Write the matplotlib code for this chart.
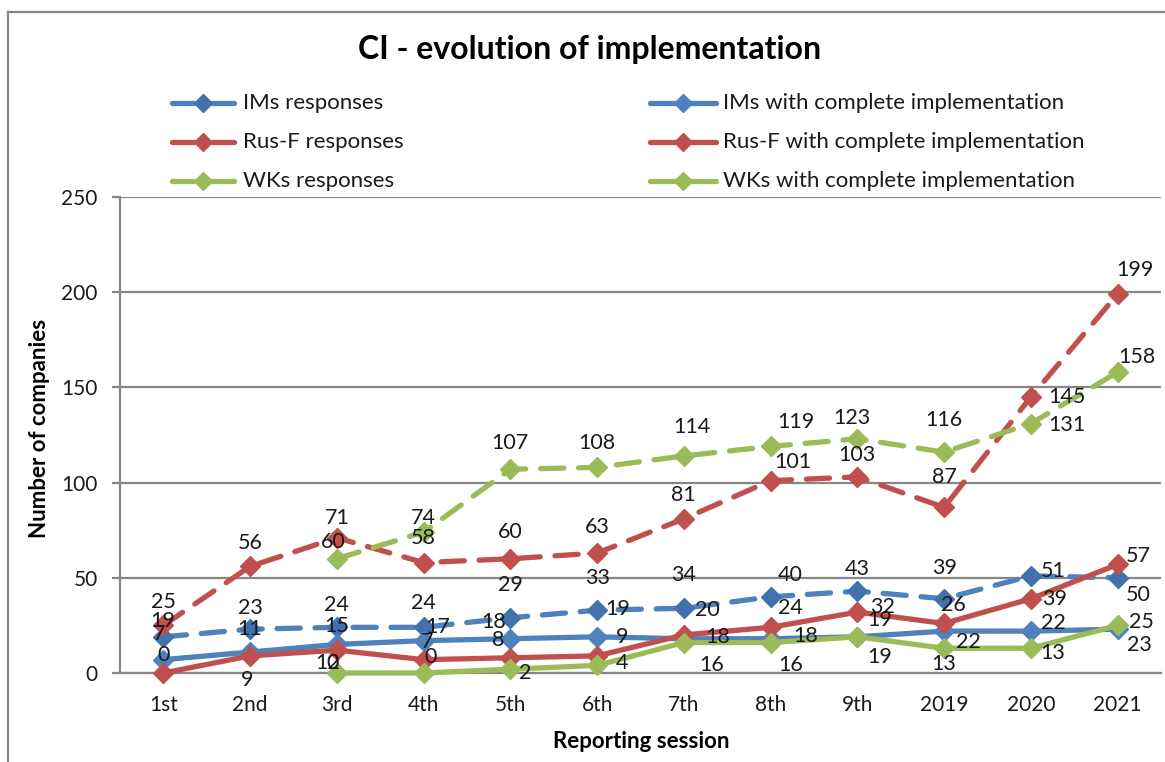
import matplotlib
matplotlib.use('Agg')
import matplotlib.pyplot as plt
from matplotlib.lines import Line2D
import numpy as np

plt.rcParams['font.family'] = ['Lato', 'DejaVu Sans']

# ---------------- data ----------------
categories = ['1st', '2nd', '3rd', '4th', '5th', '6th', '7th', '8th', '9th', '2019', '2020', '2021']
ims_responses = [19, 23, 24, 24, 29, 33, 34, 40, 43, 39, 51, 50]
ims_complete = [7, 11, 15, 17, 18, 19, 18, 18, 19, 22, 22, 23]
rusf_responses = [25, 56, 71, 58, 60, 63, 81, 101, 103, 87, 145, 199]
rusf_complete = [0, 9, 12, 7, 8, 9, 20, 24, 32, 26, 39, 57]
wks_responses = [np.nan, np.nan, 60, 74, 107, 108, 114, 119, 123, 116, 131, 158]
wks_complete = [np.nan, np.nan, 0, 0, 2, 4, 16, 16, 19, 13, 13, 25]

series_names = ['IMs responses', 'IMs with complete implementation',
                'Rus-F responses', 'Rus-F with complete implementation',
                'WKs responses', 'WKs with complete implementation']

# ---------------- label placement (pixel offsets dx, dy up) ----------------
off_ims_resp = [(-1, 16), (0, 21), (0, 22), (0, 24), (0, 33), (0, 32), (0, 33), (20, 22), (0, 22), (0, 31), (22, 5), (21, -17)]
off_ims_comp = [(-4, 26), (0, 23), (0, 18), (14, 14), (-17, 17), (21, 28), (34, 2), (35, 3), (22, 17), (24, -11), (22, 8), (22, -16)]
off_rusf_resp = [(0, 23), (0, 23), (0, 20), (0, 25), (0, 27), (0, 26), (0, 24), (22, 19), (0, 22), (0, 30), (36, 0), (17, 24)]
off_rusf_comp = [(0, 18), (-3, -24), (-9, -13), (4, 18), (-12, 18), (25, 19), (23, 25), (20, 19), (25, 5), (9, 18), (24, 0), (21, 8)]
off_wks_resp = [None, None, (-4, 17), (0, 14), (0, 26), (0, 24), (8, 29), (25, 24), (-5, 21), (0, 32), (36, -1), (19, 15)]
off_wks_comp = [None, None, (-4, 10), (7, 16), (15, -4), (25, 2), (28, -22), (20, -22), (22, -20), (0, -16), (22, -5), (24, 3)]

BLUE = '#4F81BD'
BLUE_D = '#4172AC'
RED = '#C0504D'
GREEN = '#9BBB59'
GRID = '#868686'
TXT = '#1a1a1a'

W, H = 1165, 762
fig = plt.figure(figsize=(W / 100, H / 100), dpi=100)


def fx(px):
    return px / W


def fy(py):
    return 1 - py / H


ax = fig.add_axes([fx(120), fy(673), fx(1161) - fx(120), fy(197) - fy(673)])
x = np.arange(len(categories))

LW = 3.8
MS = 10.5
dash = (4.4, 2.8)

specs = [
    (ims_responses, BLUE, BLUE_D, True, off_ims_resp),
    (ims_complete, BLUE, BLUE, False, off_ims_comp),
    (rusf_responses, RED, RED, True, off_rusf_resp),
    (rusf_complete, RED, RED, False, off_rusf_comp),
    (wks_responses, GREEN, GREEN, True, off_wks_resp),
    (wks_complete, GREEN, GREEN, False, off_wks_comp),
]

for i, (vals, col, mcol, dashed, offs) in enumerate(specs):
    ln, = ax.plot(x, vals, color=col, lw=LW, marker='D', ms=MS, mfc=mcol, mec=mcol,
                  solid_capstyle='round', dash_capstyle='round', zorder=3 + i * 0.1,
                  clip_on=False)
    if dashed:
        ln.set_linestyle((0, dash))
    for xi, v, o in zip(x, vals, offs):
        if o is None or np.isnan(v):
            continue
        ax.annotate(f'{int(v)}', (xi, v), xytext=o, textcoords='offset pixels',
                    ha='center', va='center', fontsize=15.5, color=TXT, zorder=10,
                    annotation_clip=False)

ax.set_xlim(-0.5, len(categories) - 0.5)
ax.set_ylim(0, 250)
ax.set_yticks([0, 50, 100, 150, 200, 250])
ax.set_xticks(x)
ax.set_xticklabels(categories)
ax.yaxis.grid(True, color=GRID, lw=1.6)
ax.set_axisbelow(True)
for s in ['top', 'right']:
    ax.spines[s].set_visible(False)
for s in ['left', 'bottom']:
    ax.spines[s].set_color(GRID)
    ax.spines[s].set_linewidth(1.6)
ax.tick_params(axis='y', direction='out', length=6, width=1.6, color=GRID,
               labelsize=15, labelcolor=TXT, pad=10)
ax.tick_params(axis='x', length=0, labelsize=15, labelcolor=TXT, pad=16)

fig.text(fx(641), fy(742), 'Reporting session', ha='center', va='center',
         fontsize=16, fontweight='bold', color='black')
fig.text(fx(40), fy(428), 'Number of companies', ha='center', va='center',
         rotation=90, fontsize=16, fontweight='bold', color='black')
fig.text(fx(590), fy(50), 'CI - evolution of implementation', ha='center', va='center',
         fontsize=23, fontweight='bold', color='black')

# ---------------- legend (manual) ----------------
legend_cols = [(170, [0, 2, 4]), (650, [1, 3, 5])]
rows_y = [103, 142, 181]
for x0, idxs in legend_cols:
    for ry, idx in zip(rows_y, idxs):
        vals, col, mcol, dashed, _ = specs[idx]
        if dashed:
            fig.add_artist(Line2D([fx(x0 + 2), fx(x0 + 24)], [fy(ry), fy(ry)], color=col, lw=LW,
                                  solid_capstyle='round'))
            fig.add_artist(Line2D([fx(x0 + 42), fx(x0 + 64)], [fy(ry), fy(ry)], color=col, lw=LW,
                                  solid_capstyle='round'))
        else:
            fig.add_artist(Line2D([fx(x0), fx(x0 + 66)], [fy(ry), fy(ry)], color=col, lw=LW,
                                  solid_capstyle='round'))
        fig.add_artist(Line2D([fx(x0 + 33)], [fy(ry)], marker='D', ms=MS * 0.85, mfc=mcol,
                              mec=mcol, lw=0))
        fig.text(fx(x0 + 73), fy(ry), series_names[idx], ha='left', va='center',
                 fontsize=16, color=TXT)

# outer chart frame (left and top edges visible)
fig.add_artist(Line2D([fx(8), fx(8)], [fy(12), 0], color=GRID, lw=1.6))
fig.add_artist(Line2D([fx(8), 1], [fy(12), fy(12)], color=GRID, lw=1.6))

fig.savefig('out.png', dpi=100)
